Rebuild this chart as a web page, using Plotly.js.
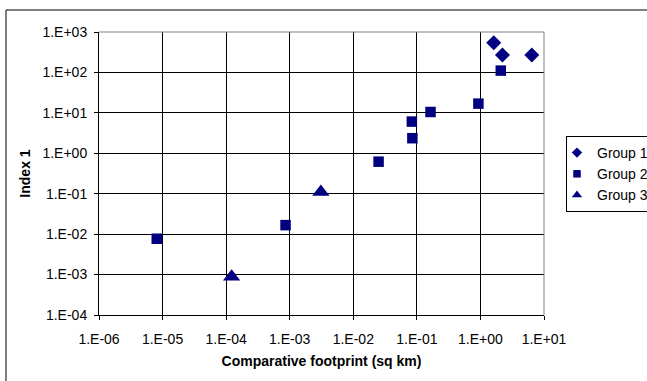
<!DOCTYPE html>
<html>
<head>
<meta charset="utf-8">
<script src="https://cdn.plot.ly/plotly-3.0.1.min.js"></script>
<style>
html,body{margin:0;padding:0;background:#fff;}
#chart{width:647px;height:381px;}
</style>
</head>
<body>
<div id="chart"></div>
<script>
// Data
const seriesNames = ["Group 1", "Group 2", "Group 3"];
const group1X = [1.62, 2.22, 6.43];
const group1Y = [545, 270, 270];
const group2X = [2.09, 0.93, 0.164, 0.0834, 0.085, 0.025, 0.00086, 0.0000081];
const group2Y = [111, 16.9, 10.5, 6.08, 2.36, 0.62, 0.0167, 0.0077];
const group3X = [0.000122, 0.00309];
const group3Y = [0.00088, 0.111];
const xTickVals = [1e-6, 1e-5, 1e-4, 1e-3, 1e-2, 1e-1, 1, 10];
const xTickText = ["1.E-06", "1.E-05", "1.E-04", "1.E-03", "1.E-02", "1.E-01", "1.E+00", "1.E+01"];
const yTickVals = [1e-4, 1e-3, 1e-2, 1e-1, 1, 10, 100, 1000];
const yTickText = ["1.E-04", "1.E-03", "1.E-02", "1.E-01", "1.E+00", "1.E+01", "1.E+02", "1.E+03"];

const navy = "#000080";
const font = "Liberation Sans, Arial, sans-serif";
const symbols = ["diamond", "square", "triangle-up"];
const plotSizes = [11.5, 10.5, 15];
const legendSizes = [8, 7.5, 9];
const groupX = [group1X, group2X, group3X];
const groupY = [group1Y, group2Y, group3Y];

const traces = [];
for (let i = 0; i < 3; i++) {
  traces.push({x: groupX[i], y: groupY[i], name: seriesNames[i], mode: "markers", type: "scatter",
    showlegend: false, legendgroup: "g" + i,
    marker: {symbol: symbols[i], size: plotSizes[i], color: navy}});
}
// legend entries (smaller key symbols, as in the reference)
for (let i = 0; i < 3; i++) {
  traces.push({x: [null], y: [null], name: seriesNames[i], mode: "markers", type: "scatter",
    showlegend: true, legendgroup: "g" + i,
    marker: {symbol: symbols[i], size: legendSizes[i], color: navy}});
}

const layout = {
  width: 647, height: 381,
  margin: {l: 99, r: 103, t: 32, b: 66, autoexpand: false},
  paper_bgcolor: "#fff", plot_bgcolor: "#fff",
  font: {family: font, size: 14, color: "#000"},
  showlegend: true,
  legend: {x: (566 - 99) / 445, xanchor: "left", y: 1 - (136 - 32) / 283, yanchor: "top",
           bordercolor: "#000", borderwidth: 1, font: {size: 14},
           itemwidth: 30, indentation: -10, tracegroupgap: 0, traceorder: "normal"},
  xaxis: {type: "log", range: [-6, 1], tickvals: xTickVals, ticktext: xTickText,
          showgrid: true, gridcolor: "#000", gridwidth: 1, zeroline: false,
          showline: true, linecolor: "#000", linewidth: 1,
          ticks: "outside", ticklen: 4, tickcolor: "#000",
          ticklabelstandoff: 7,
          title: {text: "<b>Comparative footprint (sq km)</b>", font: {size: 14}, standoff: 10},
          automargin: false},
  yaxis: {type: "log", range: [-4, 3], tickvals: yTickVals, ticktext: yTickText,
          showgrid: true, gridcolor: "#000", gridwidth: 1, zeroline: false,
          showline: true, linecolor: "#000", linewidth: 1,
          ticks: "outside", ticklen: 4, tickcolor: "#000",
          ticklabelstandoff: 4,
          title: {text: "<b>Index 1</b>", font: {size: 14}, standoff: 8},
          automargin: false},
  shapes: [
    {type: "line", xref: "paper", yref: "paper", x0: 0, x1: 1, y0: 1, y1: 1,
     line: {color: "#808080", width: 1}},
    {type: "line", xref: "paper", yref: "paper", x0: 1, x1: 1, y0: 0, y1: 1,
     line: {color: "#808080", width: 1}},
    {type: "rect", xref: "paper", yref: "paper", x0: -0.209, x1: 1.5, y0: -0.5, y1: 1.0777,
     line: {color: "#000", width: 1}, layer: "below"}
  ]
};

Plotly.newPlot("chart", traces, layout, {staticPlot: true, displayModeBar: false});
</script>
</body>
</html>
